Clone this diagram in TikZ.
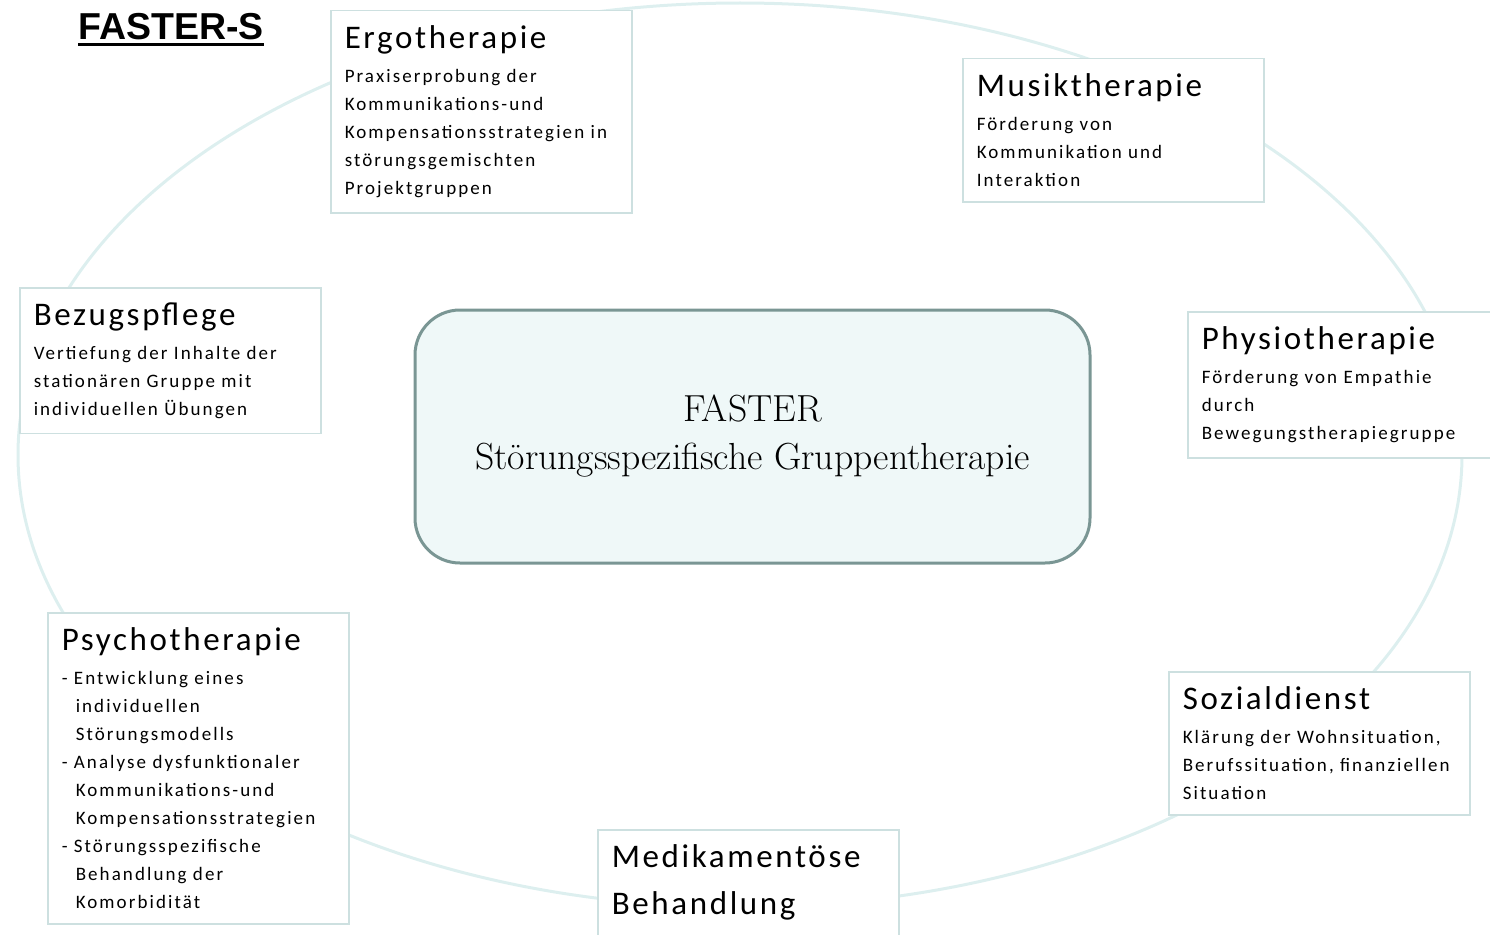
\documentclass[tikz,border=0pt]{standalone}
\usepackage{fontspec}
\newfontfamily\carlito{Carlito}[LetterSpace=11.0, WordSpace=0.35]
\newfontfamily\carlitohead{Carlito}[LetterSpace=8.0]
\newfontfamily\arialfont{Liberation Sans}
\usetikzlibrary{positioning}
\definecolor{ringcol}{RGB}{221,239,239}
\definecolor{boxline}{RGB}{205,224,224}
\definecolor{corefill}{RGB}{239,248,248}
\definecolor{coreline}{RGB}{122,150,148}
\newcommand{\boxhead}[1]{{\carlitohead\fontsize{33}{47}\selectfont #1\par}\vspace{6pt}}
\tikzset{
	therapy/.style={rectangle, draw=boxline, fill=white, line width=1.5pt, anchor=north west, align=left, text width=273pt, inner xsep=14pt, inner ysep=15pt, font=\carlito\fontsize{19}{28}\selectfont},
	core/.style={rectangle, rounded corners=45pt, draw=coreline, fill=corefill, line width=3pt, minimum width=675pt, minimum height=253pt, align=center, font=\fontsize{37.7}{48}\selectfont},
	ring/.style={draw=ringcol, line width=3pt},
	headline/.style={inner sep=0pt, anchor=base west, font=\arialfont\bfseries\fontsize{37.5}{40}\selectfont},
}

\begin{document}
\begin{tikzpicture}[x=1pt, y=1pt]
	\useasboundingbox (0,0) rectangle (1490,-934);
	\draw[ring] (740,-455) ellipse [x radius=722, y radius=452];
	\node[headline] (title) at (78,-40) {FASTER-S};
	\draw[line width=3pt] ([yshift=-5pt]title.base west) -- ([yshift=-5pt]title.base east);
	\node[core] (core) at (752.5,-436.5) {FASTER\\Störungsspezifische Gruppentherapie};
	\node[therapy] (ergo) at (330,-10) {\boxhead{Ergotherapie}Praxiserprobung der\\Kommunikations-und\\Kompensationsstrategien in\\störungsgemischten\\Projektgruppen};
	\node[therapy] (musik) at (962,-58) {\boxhead{Musiktherapie}Förderung von\\Kommunikation und\\Interaktion};
	\node[therapy] (bezug) at (19,-287) {\boxhead{Bezugspflege}Vertiefung der Inhalte der\\stationären Gruppe mit\\individuellen Übungen};
	\node[therapy, text width=290pt] (physio) at (1187,-311) {\boxhead{Physiotherapie}Förderung von Empathie\\durch\\Bewegungstherapiegruppe};
	\node[therapy] (psycho) at (47,-612) {\boxhead{Psychotherapie}- Entwicklung eines\\\hspace*{14pt}individuellen\\\hspace*{14pt}Störungsmodells\\- Analyse dysfunktionaler\\\hspace*{14pt}Kommunikations-und\\\hspace*{14pt}Kompensationsstrategien\\- Störungsspezifische\\\hspace*{14pt}Behandlung der\\\hspace*{14pt}Komorbidität};
	\node[therapy] (medik) at (597,-829) {\boxhead{Medikamentöse\\Behandlung}};
	\node[therapy] (sozial) at (1168,-671) {\boxhead{Sozialdienst}Klärung der Wohnsituation,\\Berufssituation, finanziellen\\Situation};
\end{tikzpicture}
\end{document}
